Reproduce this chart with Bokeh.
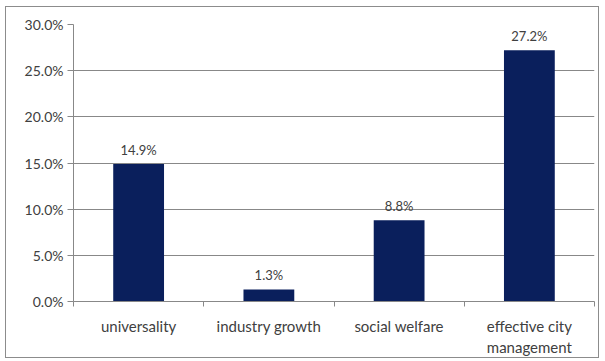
from bokeh.plotting import figure
from bokeh.models import ColumnDataSource, FixedTicker, NumeralTickFormatter, Range1d
from bokeh.core.properties import value
from bokeh.embed import file_html
from bokeh.resources import INLINE

categories = ["universality", "industry growth", "social welfare", "effective city\nmanagement"]
shares = [0.149, 0.013, 0.088, 0.272]
y_ticks = [0.0, 0.05, 0.10, 0.15, 0.20, 0.25, 0.30]

FONT = "Lato"
TXT = "#404040"

xs = [i + 0.5 for i in range(len(categories))]
src = ColumnDataSource(dict(x=xs, y=shares, lab=[f"{v*100:.1f}%" for v in shares]))

p = figure(width=594, height=352, output_backend="svg", toolbar_location=None,
           x_range=Range1d(0, len(categories)), y_range=Range1d(0, 0.30),
           min_border_left=67, min_border_right=6, min_border_top=17, min_border_bottom=55,
           margin=(6, 0, 0, 5), styles={"border": "1px solid #8c8c8c"})
p.outline_line_color = None
p.background_fill_color = "white"
p.border_fill_color = "white"

p.vbar(x="x", top="y", width=0.39, source=src, fill_color="#0a1f5c", line_color=None)
p.text(x="x", y="y", text="lab", source=src, text_align="center", text_baseline="bottom",
       y_offset=-6, text_font=value(FONT), text_font_size="13px", text_color=TXT)

# x axis
p.xaxis.ticker = FixedTicker(ticks=xs, minor_ticks=list(range(len(categories) + 1)))
p.xaxis.major_label_overrides = {x: c for x, c in zip(xs, categories)}
p.xaxis.major_tick_out = 0
p.xaxis.major_tick_in = 0
p.xaxis.minor_tick_out = 5
p.xaxis.minor_tick_in = 0
p.xaxis.minor_tick_line_color = "#888888"
p.xaxis.axis_line_color = "#888888"
p.xaxis.major_label_text_font = FONT
p.xaxis.major_label_text_font_size = "15px"
p.xaxis.major_label_text_color = TXT
p.xaxis.major_label_standoff = 10
p.xgrid.visible = False

# y axis
p.yaxis.ticker = FixedTicker(ticks=y_ticks)
p.yaxis.formatter = NumeralTickFormatter(format="0.0%")
p.yaxis.major_tick_out = 6
p.yaxis.major_tick_in = 0
p.yaxis.minor_tick_line_color = None
p.yaxis.major_tick_line_color = "#888888"
p.yaxis.axis_line_color = "#888888"
p.yaxis.major_label_text_font = FONT
p.yaxis.major_label_text_font_size = "14px"
p.yaxis.major_label_text_color = TXT
p.yaxis.major_label_standoff = 4
p.ygrid.ticker = FixedTicker(ticks=y_ticks)
p.ygrid.grid_line_color = "#888888"
p.ygrid.grid_line_width = 1

open("out.html", "w").write(file_html(p, INLINE))
